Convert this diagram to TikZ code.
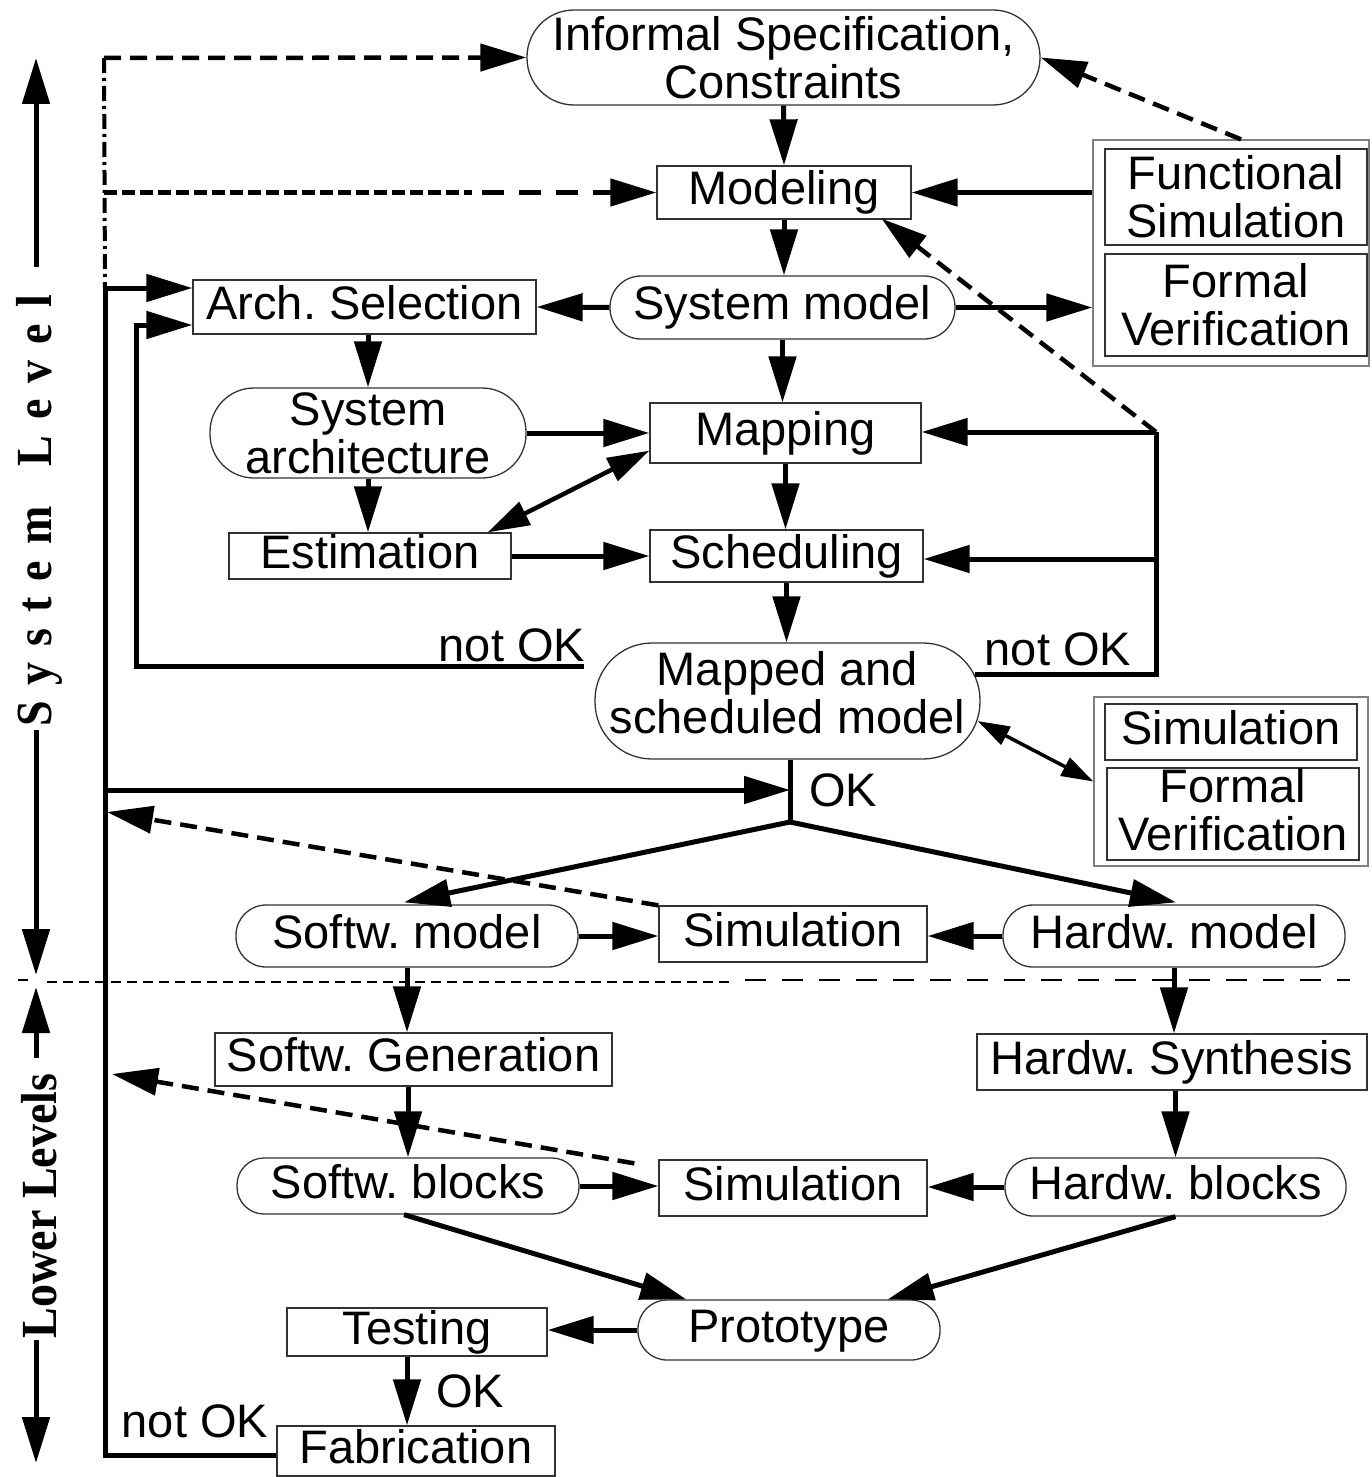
\documentclass[tikz,border=0pt]{standalone}
\usepackage{fontspec}
\setmainfont{Liberation Sans}
\newfontfamily\lvlfont{Liberation Serif}
\usetikzlibrary{arrows.meta,calc}
\newcommand\myls{\hspace{16pt}}
\newcommand\mylw{\hspace{40pt}}
\frenchspacing
\tikzset{
  every node/.style={font=\fontsize{47}{48}\selectfont, inner sep=0pt},
  rbox/.style={draw=black!80, line width=1.3pt, rectangle},
  sbox/.style={draw=black!80, line width=1.3pt, rectangle, rounded corners=#1},
  gbox/.style={draw=black!50, line width=1.3pt, rectangle},
  one/.style={text height=33pt, text depth=9pt},
  line/.style={line width=5pt},
  arr/.style={line width=5pt, -{Triangle[length=46pt,width=27pt]}},
  dsh/.style={arr, line width=4.5pt, dash pattern=on 17pt off 9pt},
  dfine/.style={line width=4.5pt, dash pattern=on 13pt off 5pt},
  darr2/.style={line width=4.5pt, {Triangle[length=42pt,width=25pt]}-{Triangle[length=42pt,width=25pt]}},
  darr3/.style={line width=3.5pt, {Triangle[length=32pt,width=20pt]}-{Triangle[length=32pt,width=20pt]}},
  dashdot/.style={line width=4pt, dash pattern=on 15pt off 5pt on 3pt off 5pt},
  lvl/.style={font=\lvlfont\bfseries\fontsize{46}{46}\selectfont, rotate=90},
}
\begin{document}
\begin{tikzpicture}[x=1pt,y=-1pt]
\useasboundingbox (0,0) rectangle (1371,1477);

% level separator
\coordinate (sepA) at (47,982);
\coordinate (sepB) at (730,982);
\coordinate (sepC) at (745,980);
\coordinate (sepD) at (1350,980);
\draw[line width=1.2pt, dash pattern=on 10pt off 6pt] (sepA) -- (sepB);
\draw[line width=1.8pt, dash pattern=on 21pt off 16pt] (sepC) -- (sepD);
\draw[line width=1.5pt] (18,980) -- (28,980);

% nodes
\node[sbox=47pt, minimum width=513pt, minimum height=95pt, align=center] (info) at (783.5,57.5) {Informal Specification,\\Constraints};
\node[rbox, one, minimum width=254pt, minimum height=53pt] (modeling) at (784,192.5) {Modeling};
\node[gbox, minimum width=276pt, minimum height=226pt] (fsg) at (1231,253) {};
\node[rbox, minimum width=262pt, minimum height=96pt, align=center] (fs) at (1236,197) {Functional\\Simulation};
\node[rbox, minimum width=262pt, minimum height=102pt, align=center] (fv1) at (1236,305) {Formal\\Verification};
\node[sbox=31pt, one, minimum width=345pt, minimum height=63pt] (sysmodel) at (782.5,307.5) {System model};
\node[rbox, one, minimum width=343pt, minimum height=54pt] (arch) at (364.5,307) {Arch. Selection};
\node[sbox=44pt, minimum width=316pt, minimum height=90pt, align=center] (sysarch) at (368,433) {System\\architecture};
\node[rbox, one, minimum width=271pt, minimum height=60pt] (mapping) at (785.5,433) {Mapping};
\node[rbox, one, minimum width=282pt, minimum height=46pt] (estim) at (370,556) {Estimation};
\node[rbox, one, minimum width=273pt, minimum height=52pt] (sched) at (786.5,556) {Scheduling};
\node[sbox=57pt, minimum width=385pt, minimum height=116pt, align=center] (mapped) at (787.5,701) {Mapped and\\scheduled model\rule[-18pt]{0pt}{18pt}};
\node[gbox, minimum width=274pt, minimum height=169pt] (sfg) at (1231,781.5) {};
\node[rbox, one, minimum width=252pt, minimum height=56pt] (sim1) at (1231,732) {Simulation};
\node[rbox, minimum width=252pt, minimum height=92pt, align=center] (fv2) at (1233,814) {Formal\\Verification\rule[-10pt]{0pt}{10pt}};
\node[sbox=30pt, one, minimum width=342pt, minimum height=62pt] (swmodel) at (407,936) {Softw. model};
\node[rbox, one, minimum width=268pt, minimum height=56pt] (simA) at (793,934) {Simulation};
\node[sbox=30pt, one, minimum width=342pt, minimum height=62pt] (hwmodel) at (1174,936) {Hardw. model};
\node[rbox, one, minimum width=397pt, minimum height=53pt] (swgen) at (413.5,1059.5) {Softw. Generation};
\node[rbox, one, minimum width=390pt, minimum height=56pt] (hwsyn) at (1172,1062) {Hardw. Synthesis};
\node[sbox=27pt, one, minimum width=342pt, minimum height=56pt] (swblocks) at (408,1186) {Softw. blocks};
\node[rbox, one, minimum width=268pt, minimum height=56pt] (simB) at (793,1188) {Simulation};
\node[sbox=28pt, one, minimum width=341pt, minimum height=58pt] (hwblocks) at (1175.5,1187) {Hardw. blocks};
\node[sbox=29pt, one, minimum width=302pt, minimum height=60pt] (proto) at (789,1330) {Prototype};
\node[rbox, one, minimum width=260pt, minimum height=48pt] (testing) at (417,1332) {Testing};
\node[rbox, one, minimum width=278pt, minimum height=50pt] (fab) at (416,1451) {Fabrication};

% labels
\node (nok1) at (512,645) {not OK};
\node (nok2) at (1058,649) {not OK};
\node (nok3) at (195,1421) {not OK};
\node (ok1) at (843,790) {OK};
\node (ok2) at (470,1391) {OK};

% level labels
\node[lvl] (sl) at (39,511) {\scalebox{1}[1.1]{S\myls y\myls s\myls t\myls e\myls m\mylw L\myls e\myls v\myls e\myls l}};
\node[lvl] (ll) at (39,1206) {\scalebox{1}[1.1]{Lower Levels}};
\coordinate (slTop) at (36,58);
\coordinate (slA) at (36,267);
\coordinate (slB) at (36,730);
\coordinate (slBot) at (36,975);
\coordinate (llTop) at (36,987);
\coordinate (llA) at (36,1058);
\coordinate (llB) at (36,1340);
\coordinate (llBot) at (36,1463);
\draw[arr] (slA) -- (slTop);
\draw[arr] (slB) -- (slBot);
\draw[arr] (llA) -- (llTop);
\draw[arr] (llB) -- (llBot);

% coordinates
\coordinate (tTop) at (104,58);
\coordinate (tMod) at (104,192.5);
\coordinate (tMid) at (472,192.5);
\coordinate (tMid2) at (482,192.5);
\coordinate (tArch) at (105,288);
\coordinate (tOK) at (105,790);
\coordinate (tSimA) at (107,812);
\coordinate (tSimB) at (112,1074);
\coordinate (tBot) at (105,1455);
\coordinate (lTop) at (136,325);
\coordinate (lBot) at (136,666);
\coordinate (lEnd) at (584,666);
\coordinate (rTop) at (1156,432);
\coordinate (rSch) at (1156,559);
\coordinate (rBot) at (1156,674);
\coordinate (jOK) at (790,790);
\coordinate (jSplit) at (790,822);

% left trunk
\draw[dashdot] (tTop) -- (tArch);
\draw[dsh] (tTop) -- (info.west);
\draw[dfine] (tMod) -- (tMid);
\draw[arr, line width=4.5pt, dash pattern=on 22pt off 15pt] (tMid2) -- (modeling.west);
\draw[arr] (tArch) -- (tArch -| arch.west);
\draw[line] (tArch) -- (tBot) -- (tBot -| fab.west);
\draw[arr] (lEnd) -- (lBot) -- (lTop) -- (lTop -| arch.west);
\draw[arr] (tOK) -- (jOK);
\draw[dsh] (simA.north west) -- (tSimA);
\draw[dsh] ($(simB.north west)+(-24,4)$) -- (tSimB);

% center column
\draw[arr] (info.south) -- (modeling.north);
\draw[arr] (modeling.south) -- (modeling.south |- sysmodel.north);
\draw[arr] (sysmodel.west) -- (arch.east);
\draw[arr] (sysmodel.south) -- (sysmodel.south |- mapping.north);
\draw[arr] (sysarch.north |- arch.south) -- (sysarch.north);
\draw[arr] (sysarch.east) -- (sysarch.east -| mapping.west);
\draw[arr] (sysarch.south) -- (sysarch.south |- estim.north);
\draw[darr2] ($(estim.north east)+(-24,0)$) -- ($(mapping.south west)+(0,-13)$);
\draw[arr] (estim.east) -- (estim.east -| sched.west);
\draw[arr] (mapping.south) -- (mapping.south |- sched.north);
\draw[arr] (sched.south) -- (sched.south |- mapped.north);
\draw[line] (jOK |- mapped.south) -- (jSplit);
\draw[arr] (jSplit) -- ($(swmodel.north)+(-3,-2)$);
\draw[arr] (jSplit) -- ($(hwmodel.north)+(2,-2)$);

% right side
\draw[arr] (fsg.west |- modeling.east) -- (modeling.east);
\draw[arr] (sysmodel.east) -- (sysmodel.east -| fsg.west);
\draw[dsh] ($(fsg.north)+(10,0)$) -- (info.east);
\draw[dsh] (rTop) -- ($(modeling.south east)+(-30,-1)$);
\draw[arr] (rTop) -- (rTop -| mapping.east);
\draw[arr] (rSch) -- (rSch -| sched.east);
\draw[line] (rTop) -- (rBot) -- ($(rBot -| mapped.east)+(-6,0)$);
\draw[darr3] ($(mapped.east)+(-3,20)$) -- (sfg.west);

% lower part
\draw[arr] (swmodel.east) -- (swmodel.east -| simA.west);
\draw[arr] (hwmodel.west) -- (hwmodel.west -| simA.east);
\draw[arr] (swmodel.south) -- (swmodel.south |- swgen.north);
\draw[arr] (swblocks.north |- swgen.south) -- (swblocks.north);
\draw[arr] (hwmodel.south) -- (hwmodel.south |- hwsyn.north);
\draw[arr] (hwblocks.north |- hwsyn.south) -- (hwblocks.north);
\draw[arr] (swblocks.east) -- (swblocks.east -| simB.west);
\draw[arr] (hwblocks.west) -- (hwblocks.west -| simB.east);
\draw[arr] ($(swblocks.south)+(-4,0)$) -- ($(proto.north west)+(49,0)$);
\draw[arr] (hwblocks.south) -- ($(proto.north east)+(-53,0)$);
\draw[arr] (proto.west) -- (proto.west -| testing.east);
\draw[arr] ($(testing.south)+(-10,0)$) -- ($(testing.south |- fab.north)+(-10,0)$);
\end{tikzpicture}
\end{document}
